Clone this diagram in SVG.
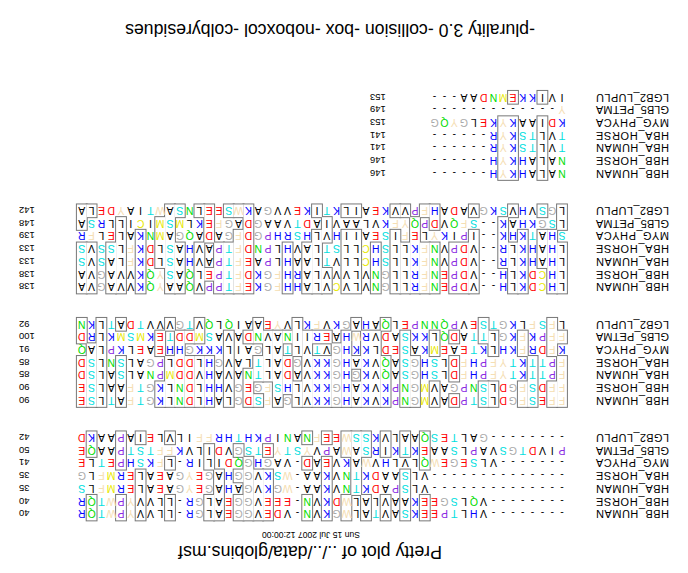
<svg xmlns="http://www.w3.org/2000/svg" width="688" height="573" viewBox="0 0 688 573">
<style>
text{font-family:"Liberation Sans",Arial,sans-serif;fill:#000}
.s{font-size:10.5px;text-anchor:middle}
.nm{font-size:11px}
.nu{font-size:9.5px;text-anchor:end}
.r{fill:#f00}.b{fill:#00f}.c{fill:#00dede}.g{fill:#00dc00}.y{fill:#aaa}.p{fill:#8a2be2}.w{fill:#f5deb3}.m{fill:#e8e800}
</style>
<defs>
<g id="bx1">
<rect x="258.3" y="0" width="9.8" height="25.4"/><rect x="258.3" y="50.8" width="9.8" height="38.1"/>
<rect x="277.9" y="0" width="9.8" height="50.8"/><rect x="277.9" y="63.5" width="9.8" height="25.4"/>
<rect x="297.5" y="0" width="9.8" height="25.4"/><rect x="297.5" y="63.5" width="9.8" height="25.4"/>
<rect x="317.1" y="0" width="9.8" height="25.4"/><rect x="317.1" y="63.5" width="9.8" height="25.4"/>
<rect x="326.9" y="25.4" width="9.8" height="63.5"/>
<rect x="336.7" y="0" width="9.8" height="25.4"/><rect x="336.7" y="63.5" width="9.8" height="25.4"/>
<rect x="356.3" y="0" width="9.8" height="63.5"/><rect x="356.3" y="76.2" width="9.8" height="12.7"/>
<rect x="375.9" y="0" width="9.8" height="25.4"/><rect x="375.9" y="50.8" width="9.8" height="12.7"/><rect x="375.9" y="76.2" width="9.8" height="12.7"/>
<rect x="415.1" y="0" width="9.8" height="50.8"/><rect x="415.1" y="63.5" width="9.8" height="12.7"/>
<rect x="424.9" y="0" width="9.8" height="50.8"/>
<rect x="434.7" y="0" width="9.8" height="63.5"/>
<rect x="444.5" y="0" width="9.8" height="25.4"/><rect x="444.5" y="38.1" width="9.8" height="12.7"/><rect x="444.5" y="63.5" width="9.8" height="12.7"/>
<rect x="464.1" y="0" width="9.8" height="50.8"/>
<rect x="473.9" y="0" width="9.8" height="25.4"/><rect x="473.9" y="50.8" width="9.8" height="25.4"/>
<rect x="513.1" y="0" width="9.8" height="25.4"/><rect x="513.1" y="50.8" width="9.8" height="12.7"/><rect x="513.1" y="76.2" width="9.8" height="12.7"/>
<rect x="542.5" y="0" width="9.8" height="50.8"/><rect x="542.5" y="76.2" width="9.8" height="12.7"/>
<rect x="562.1" y="0" width="9.8" height="25.4"/><rect x="562.1" y="50.8" width="9.8" height="38.1"/>
<rect x="591.5" y="0" width="9.8" height="25.4"/><rect x="591.5" y="63.5" width="9.8" height="25.4"/>
</g>
<g id="bx2">
<rect x="121.1" y="0" width="9.8" height="50.8"/><rect x="121.1" y="63.5" width="9.8" height="12.7"/>
<rect x="130.9" y="0" width="9.8" height="25.4"/><rect x="130.9" y="50.8" width="9.8" height="38.1"/>
<rect x="150.5" y="0" width="9.8" height="50.8"/>
<rect x="160.3" y="0" width="9.8" height="25.4"/><rect x="160.3" y="50.8" width="9.8" height="25.4"/>
<rect x="189.7" y="0" width="9.8" height="25.4"/><rect x="189.7" y="50.8" width="9.8" height="25.4"/>
<rect x="199.5" y="0" width="9.8" height="25.4"/><rect x="199.5" y="63.5" width="9.8" height="25.4"/>
<rect x="228.9" y="0" width="9.8" height="12.7"/><rect x="228.9" y="25.4" width="9.8" height="25.4"/><rect x="228.9" y="63.5" width="9.8" height="12.7"/>
<rect x="248.5" y="0" width="9.8" height="25.4"/><rect x="248.5" y="50.8" width="9.8" height="25.4"/>
<rect x="268.1" y="0" width="9.8" height="50.8"/>
<rect x="277.9" y="0" width="9.8" height="76.2"/>
<rect x="297.5" y="0" width="9.8" height="50.8"/><rect x="297.5" y="76.2" width="9.8" height="12.7"/>
<rect x="307.3" y="0" width="19.6" height="76.2"/>
<rect x="326.9" y="0" width="9.8" height="25.4"/><rect x="326.9" y="38.1" width="9.8" height="12.7"/><rect x="326.9" y="76.2" width="9.8" height="12.7"/>
<rect x="336.7" y="0" width="9.8" height="76.2"/>
<rect x="346.5" y="0" width="9.8" height="63.5"/>
<rect x="356.3" y="0" width="19.6" height="50.8"/><rect x="356.3" y="63.5" width="19.6" height="12.7"/>
<rect x="375.9" y="0" width="9.8" height="76.2"/>
<rect x="385.7" y="0" width="9.8" height="25.4"/><rect x="385.7" y="50.8" width="9.8" height="38.1"/>
<rect x="395.5" y="12.7" width="9.8" height="38.1"/><rect x="395.5" y="63.5" width="9.8" height="12.7"/>
<rect x="405.3" y="0" width="9.8" height="76.2"/>
<rect x="415.1" y="25.4" width="9.8" height="50.8"/>
<rect x="424.9" y="0" width="9.8" height="12.7"/><rect x="424.9" y="25.4" width="9.8" height="25.4"/><rect x="424.9" y="63.5" width="9.8" height="25.4"/>
<rect x="434.7" y="0" width="9.8" height="38.1"/><rect x="434.7" y="63.5" width="9.8" height="12.7"/>
<rect x="454.3" y="0" width="9.8" height="76.2"/>
<rect x="473.9" y="0" width="9.8" height="50.8"/>
<rect x="483.7" y="0" width="9.8" height="50.8"/><rect x="483.7" y="63.5" width="9.8" height="25.4"/>
<rect x="493.5" y="0" width="9.8" height="50.8"/><rect x="493.5" y="63.5" width="9.8" height="12.7"/>
<rect x="503.3" y="0" width="9.8" height="76.2"/>
<rect x="513.1" y="0" width="9.8" height="50.8"/><rect x="513.1" y="76.2" width="9.8" height="12.7"/>
<rect x="522.9" y="0" width="9.8" height="25.4"/><rect x="522.9" y="50.8" width="9.8" height="25.4"/>
<rect x="562.1" y="0" width="9.8" height="50.8"/><rect x="562.1" y="76.2" width="9.8" height="12.7"/>
<rect x="581.7" y="0" width="9.8" height="88.9"/>
<rect x="591.5" y="0" width="9.8" height="63.5"/>
<rect x="601.3" y="0" width="9.8" height="50.8"/><rect x="601.3" y="63.5" width="9.8" height="25.4"/>
</g>
<g id="bx3">
<rect x="121.1" y="0" width="9.8" height="50.8"/><rect x="121.1" y="63.5" width="9.8" height="25.4"/>
<rect x="130.9" y="0" width="9.8" height="63.5"/>
<rect x="140.7" y="25.4" width="9.8" height="38.1"/><rect x="140.7" y="76.2" width="9.8" height="12.7"/>
<rect x="160.3" y="0" width="9.8" height="63.5"/>
<rect x="170.1" y="0" width="9.8" height="50.8"/><rect x="170.1" y="76.2" width="9.8" height="12.7"/>
<rect x="179.9" y="25.4" width="9.8" height="50.8"/>
<rect x="209.3" y="0" width="9.8" height="63.5"/><rect x="209.3" y="76.2" width="9.8" height="12.7"/>
<rect x="219.1" y="0" width="19.6" height="50.8"/>
<rect x="248.5" y="0" width="9.8" height="50.8"/><rect x="248.5" y="63.5" width="9.8" height="25.4"/>
<rect x="258.3" y="0" width="9.8" height="50.8"/><rect x="258.3" y="76.2" width="9.8" height="12.7"/>
<rect x="268.1" y="0" width="9.8" height="76.2"/>
<rect x="277.9" y="0" width="9.8" height="50.8"/><rect x="277.9" y="76.2" width="9.8" height="12.7"/>
<rect x="287.7" y="0" width="9.8" height="63.5"/><rect x="287.7" y="76.2" width="9.8" height="12.7"/>
<rect x="307.3" y="0" width="9.8" height="50.8"/>
<rect x="326.9" y="0" width="19.6" height="63.5"/><rect x="326.9" y="76.2" width="19.6" height="12.7"/>
<rect x="356.3" y="0" width="9.8" height="25.4"/><rect x="356.3" y="50.8" width="9.8" height="25.4"/>
<rect x="366.1" y="0" width="9.8" height="63.5"/><rect x="366.1" y="76.2" width="9.8" height="12.7"/>
<rect x="375.9" y="0" width="9.8" height="50.8"/>
<rect x="395.5" y="0" width="9.8" height="50.8"/>
<rect x="434.7" y="0" width="9.8" height="88.9"/>
<rect x="444.5" y="0" width="9.8" height="63.5"/><rect x="444.5" y="76.2" width="9.8" height="12.7"/>
<rect x="454.3" y="0" width="9.8" height="50.8"/><rect x="454.3" y="76.2" width="9.8" height="12.7"/>
<rect x="464.1" y="0" width="9.8" height="50.8"/>
<rect x="473.9" y="12.7" width="9.8" height="12.7"/><rect x="473.9" y="50.8" width="9.8" height="38.1"/>
<rect x="483.7" y="0" width="9.8" height="50.8"/><rect x="483.7" y="76.2" width="9.8" height="12.7"/>
<rect x="503.3" y="0" width="9.8" height="50.8"/><rect x="503.3" y="76.2" width="9.8" height="12.7"/>
<rect x="513.1" y="0" width="9.8" height="88.9"/>
<rect x="522.9" y="25.4" width="9.8" height="50.8"/>
<rect x="542.5" y="0" width="9.8" height="63.5"/>
<rect x="562.1" y="0" width="9.8" height="76.2"/>
<rect x="571.9" y="0" width="9.8" height="50.8"/>
<rect x="591.5" y="0" width="9.8" height="50.8"/><rect x="591.5" y="76.2" width="9.8" height="12.7"/>
<rect x="601.3" y="0" width="9.8" height="50.8"/><rect x="601.3" y="63.5" width="9.8" height="25.4"/>
</g>
<g id="bx4">
<rect x="140.7" y="0" width="9.8" height="63.5"/><rect x="140.7" y="76.2" width="9.8" height="12.7"/>
<rect x="170.1" y="0" width="19.6" height="63.5"/><rect x="170.1" y="76.2" width="9.8" height="12.7"/>
</g>
</defs>
<rect width="688" height="573" fill="#fff"/>
<g transform="rotate(180 344 286.5)">
<text x="378" y="27" text-anchor="middle" font-size="17.8">Pretty plot of ../../data/globins.msf</text>
<text x="377" y="41" text-anchor="middle" font-size="8.6">Sun 15 Jul 2007 12:00:00</text>
<text x="358" y="549" text-anchor="middle" font-size="17.7">-plurality 3.0 -collision -box -noboxcol -colbyresidues</text>

<g id="block1" transform="translate(0,52.65)">
<use href="#bx1" fill="none" stroke="#777" stroke-width="2"/>
<use href="#bx1" fill="#fff"/>
<text class="nm" x="19" y="10.15" textLength="73" lengthAdjust="spacing">HBB_HUMAN</text>
<text class="nm" x="19" y="22.85" textLength="73" lengthAdjust="spacing">HBB_HORSE</text>
<text class="nm" x="19" y="35.55" textLength="73" lengthAdjust="spacing">HBA_HUMAN</text>
<text class="nm" x="19" y="48.25" textLength="73" lengthAdjust="spacing">HBA_HORSE</text>
<text class="nm" x="19" y="60.95" textLength="73" lengthAdjust="spacing">MYG_PHYCA</text>
<text class="nm" x="19" y="73.65" textLength="73" lengthAdjust="spacing">GLB5_PETMA</text>
<text class="nm" x="19" y="86.35" textLength="73" lengthAdjust="spacing">LGB2_LUPLU</text>
<text class="s" y="10.15" x="126 135.8 145.6 155.4 165.2 175 184.8 194.6 204.4 214.2 224 233.8 243.6 253.4 263.2 273 282.8 292.6 302.4 312.2 322 331.8 341.6 351.4 361.2 371 380.8 390.6 400.4 410.2 420 429.8 439.6 449.4 459.2 469 478.8 488.6 498.4 508.2 518 527.8 537.6 547.4 557.2 567 576.8 586.6 596.4 606.2">--------V<tspan class="b">H</tspan>L<tspan class="c">T</tspan><tspan class="p">P</tspan><tspan class="r">EE</tspan><tspan class="b">K</tspan><tspan class="c">S</tspan>AV<tspan class="c">T</tspan>AL<tspan class="w">W</tspan><tspan class="y">G</tspan><tspan class="b">K</tspan>V<tspan class="g">N</tspan>-V<tspan class="r">DE</tspan>V<tspan class="y">GG</tspan><tspan class="r">E</tspan>AL<tspan class="y">G</tspan><tspan class="b">R</tspan>-LLVV<tspan class="w">Y</tspan><tspan class="p">P</tspan><tspan class="w">W</tspan><tspan class="c">T</tspan><tspan class="g">Q</tspan><tspan class="b">R</tspan></text>
<text class="s" y="22.85" x="126 135.8 145.6 155.4 165.2 175 184.8 194.6 204.4 214.2 224 233.8 243.6 253.4 263.2 273 282.8 292.6 302.4 312.2 322 331.8 341.6 351.4 361.2 371 380.8 390.6 400.4 410.2 420 429.8 439.6 449.4 459.2 469 478.8 488.6 498.4 508.2 518 527.8 537.6 547.4 557.2 567 576.8 586.6 596.4 606.2">--------V<tspan class="g">Q</tspan>L<tspan class="c">S</tspan><tspan class="y">G</tspan><tspan class="r">EE</tspan><tspan class="b">K</tspan>AAVLAL<tspan class="w">W</tspan><tspan class="r">D</tspan><tspan class="b">K</tspan>V<tspan class="g">N</tspan>-<tspan class="r">EEE</tspan>V<tspan class="y">GG</tspan><tspan class="r">E</tspan>AL<tspan class="y">G</tspan><tspan class="b">R</tspan>-LLVV<tspan class="w">Y</tspan><tspan class="p">P</tspan><tspan class="w">W</tspan><tspan class="c">T</tspan><tspan class="g">Q</tspan><tspan class="b">R</tspan></text>
<text class="s" y="35.55" x="126 135.8 145.6 155.4 165.2 175 184.8 194.6 204.4 214.2 224 233.8 243.6 253.4 263.2 273 282.8 292.6 302.4 312.2 322 331.8 341.6 351.4 361.2 371 380.8 390.6 400.4 410.2 420 429.8 439.6 449.4 459.2 469 478.8 488.6 498.4 508.2 518 527.8 537.6 547.4 557.2 567 576.8 586.6 596.4 606.2">--------------VL<tspan class="c">S</tspan><tspan class="p">P</tspan>A<tspan class="r">D</tspan><tspan class="b">K</tspan><tspan class="c">T</tspan><tspan class="g">N</tspan>V<tspan class="b">K</tspan>AA-<tspan class="w">W</tspan><tspan class="y">G</tspan><tspan class="b">K</tspan>V<tspan class="y">G</tspan>A<tspan class="b">H</tspan>A<tspan class="y">G</tspan><tspan class="r">E</tspan><tspan class="w">Y</tspan><tspan class="y">G</tspan>A<tspan class="r">E</tspan>AL<tspan class="r">E</tspan><tspan class="b">R</tspan><tspan class="m">M</tspan><tspan class="w">F</tspan>L<tspan class="c">S</tspan></text>
<text class="s" y="48.25" x="126 135.8 145.6 155.4 165.2 175 184.8 194.6 204.4 214.2 224 233.8 243.6 253.4 263.2 273 282.8 292.6 302.4 312.2 322 331.8 341.6 351.4 361.2 371 380.8 390.6 400.4 410.2 420 429.8 439.6 449.4 459.2 469 478.8 488.6 498.4 508.2 518 527.8 537.6 547.4 557.2 567 576.8 586.6 596.4 606.2">--------------VL<tspan class="c">S</tspan>AA<tspan class="r">D</tspan><tspan class="b">K</tspan><tspan class="c">T</tspan><tspan class="g">N</tspan>V<tspan class="b">K</tspan>AA-<tspan class="w">W</tspan><tspan class="c">S</tspan><tspan class="b">K</tspan>V<tspan class="y">GG</tspan><tspan class="b">H</tspan>A<tspan class="y">G</tspan><tspan class="r">E</tspan><tspan class="w">Y</tspan><tspan class="y">G</tspan>A<tspan class="r">E</tspan>AL<tspan class="r">E</tspan><tspan class="b">R</tspan><tspan class="m">M</tspan><tspan class="w">F</tspan>L<tspan class="y">G</tspan></text>
<text class="s" y="60.95" x="126 135.8 145.6 155.4 165.2 175 184.8 194.6 204.4 214.2 224 233.8 243.6 253.4 263.2 273 282.8 292.6 302.4 312.2 322 331.8 341.6 351.4 361.2 371 380.8 390.6 400.4 410.2 420 429.8 439.6 449.4 459.2 469 478.8 488.6 498.4 508.2 518 527.8 537.6 547.4 557.2 567 576.8 586.6 596.4 606.2">-------VL<tspan class="c">S</tspan><tspan class="r">E</tspan><tspan class="y">G</tspan><tspan class="r">E</tspan><tspan class="w">W</tspan><tspan class="g">Q</tspan>LVL<tspan class="b">H</tspan>V<tspan class="w">W</tspan>A<tspan class="b">K</tspan>V<tspan class="r">E</tspan>A<tspan class="r">D</tspan>-VA<tspan class="y">G</tspan><tspan class="b">H</tspan><tspan class="y">G</tspan><tspan class="g">Q</tspan><tspan class="r">D</tspan>ILI<tspan class="b">R</tspan>-L<tspan class="w">F</tspan><tspan class="b">K</tspan><tspan class="c">S</tspan><tspan class="b">H</tspan><tspan class="p">P</tspan><tspan class="r">E</tspan><tspan class="c">T</tspan>L<tspan class="r">E</tspan></text>
<text class="s" y="73.65" x="126 135.8 145.6 155.4 165.2 175 184.8 194.6 204.4 214.2 224 233.8 243.6 253.4 263.2 273 282.8 292.6 302.4 312.2 322 331.8 341.6 351.4 361.2 371 380.8 390.6 400.4 410.2 420 429.8 439.6 449.4 459.2 469 478.8 488.6 498.4 508.2 518 527.8 537.6 547.4 557.2 567 576.8 586.6 596.4 606.2"><tspan class="p">P</tspan>IV<tspan class="r">D</tspan><tspan class="c">T</tspan><tspan class="y">G</tspan><tspan class="c">S</tspan>VA<tspan class="p">P</tspan>L<tspan class="c">S</tspan>AA<tspan class="r">E</tspan><tspan class="b">K</tspan><tspan class="c">T</tspan><tspan class="b">K</tspan>I<tspan class="b">R</tspan><tspan class="c">S</tspan>A<tspan class="w">W</tspan>A<tspan class="p">P</tspan>V<tspan class="w">Y</tspan><tspan class="c">ST</tspan><tspan class="w">Y</tspan><tspan class="r">E</tspan><tspan class="c">TS</tspan><tspan class="y">G</tspan>V<tspan class="r">D</tspan>ILV<tspan class="b">K</tspan><tspan class="w">FF</tspan><tspan class="c">TST</tspan><tspan class="p">P</tspan>AA<tspan class="g">Q</tspan><tspan class="r">E</tspan></text>
<text class="s" y="86.35" x="126 135.8 145.6 155.4 165.2 175 184.8 194.6 204.4 214.2 224 233.8 243.6 253.4 263.2 273 282.8 292.6 302.4 312.2 322 331.8 341.6 351.4 361.2 371 380.8 390.6 400.4 410.2 420 429.8 439.6 449.4 459.2 469 478.8 488.6 498.4 508.2 518 527.8 537.6 547.4 557.2 567 576.8 586.6 596.4 606.2">--------<tspan class="y">G</tspan>AL<tspan class="c">T</tspan><tspan class="r">E</tspan><tspan class="c">S</tspan><tspan class="g">Q</tspan>AALV<tspan class="b">K</tspan><tspan class="c">SS</tspan><tspan class="w">W</tspan><tspan class="r">EE</tspan><tspan class="w">F</tspan><tspan class="g">N</tspan>A<tspan class="g">N</tspan>I<tspan class="p">P</tspan><tspan class="b">KH</tspan><tspan class="c">T</tspan><tspan class="b">HR</tspan><tspan class="w">FF</tspan>ILVL<tspan class="r">E</tspan>IA<tspan class="p">P</tspan>AA<tspan class="b">K</tspan><tspan class="r">D</tspan></text>
<text class="nu" x="669" y="10.15">40</text>
<text class="nu" x="669" y="22.85">40</text>
<text class="nu" x="669" y="35.55">35</text>
<text class="nu" x="669" y="48.25">35</text>
<text class="nu" x="669" y="60.95">41</text>
<text class="nu" x="669" y="73.65">50</text>
<text class="nu" x="669" y="86.35">42</text>
</g>

<g id="block2" transform="translate(0,166.15)">
<use href="#bx2" fill="none" stroke="#777" stroke-width="2"/>
<use href="#bx2" fill="#fff"/>
<text class="nm" x="19" y="10.15" textLength="73" lengthAdjust="spacing">HBB_HUMAN</text>
<text class="nm" x="19" y="22.85" textLength="73" lengthAdjust="spacing">HBB_HORSE</text>
<text class="nm" x="19" y="35.55" textLength="73" lengthAdjust="spacing">HBA_HUMAN</text>
<text class="nm" x="19" y="48.25" textLength="73" lengthAdjust="spacing">HBA_HORSE</text>
<text class="nm" x="19" y="60.95" textLength="73" lengthAdjust="spacing">MYG_PHYCA</text>
<text class="nm" x="19" y="73.65" textLength="73" lengthAdjust="spacing">GLB5_PETMA</text>
<text class="nm" x="19" y="86.35" textLength="73" lengthAdjust="spacing">LGB2_LUPLU</text>
<text class="s" y="10.15" x="126 135.8 145.6 155.4 165.2 175 184.8 194.6 204.4 214.2 224 233.8 243.6 253.4 263.2 273 282.8 292.6 302.4 312.2 322 331.8 341.6 351.4 361.2 371 380.8 390.6 400.4 410.2 420 429.8 439.6 449.4 459.2 469 478.8 488.6 498.4 508.2 518 527.8 537.6 547.4 557.2 567 576.8 586.6 596.4 606.2"><tspan class="w">FF</tspan><tspan class="r">E</tspan><tspan class="c">S</tspan><tspan class="w">F</tspan><tspan class="y">G</tspan><tspan class="r">D</tspan>L<tspan class="c">ST</tspan><tspan class="p">P</tspan><tspan class="r">D</tspan>AV<tspan class="m">M</tspan><tspan class="y">G</tspan><tspan class="g">N</tspan><tspan class="p">P</tspan><tspan class="b">K</tspan>V<tspan class="b">K</tspan>A<tspan class="b">H</tspan><tspan class="y">G</tspan><tspan class="b">KK</tspan>VL<tspan class="y">G</tspan>A<tspan class="w">F</tspan><tspan class="c">S</tspan><tspan class="r">D</tspan><tspan class="y">G</tspan>LA<tspan class="b">H</tspan>L<tspan class="r">D</tspan><tspan class="g">N</tspan>L<tspan class="b">K</tspan><tspan class="y">G</tspan><tspan class="c">T</tspan><tspan class="w">F</tspan>A<tspan class="c">T</tspan>L<tspan class="c">S</tspan><tspan class="r">E</tspan></text>
<text class="s" y="22.85" x="126 135.8 145.6 155.4 165.2 175 184.8 194.6 204.4 214.2 224 233.8 243.6 253.4 263.2 273 282.8 292.6 302.4 312.2 322 331.8 341.6 351.4 361.2 371 380.8 390.6 400.4 410.2 420 429.8 439.6 449.4 459.2 469 478.8 488.6 498.4 508.2 518 527.8 537.6 547.4 557.2 567 576.8 586.6 596.4 606.2"><tspan class="w">FF</tspan><tspan class="r">D</tspan><tspan class="c">S</tspan><tspan class="w">F</tspan><tspan class="y">G</tspan><tspan class="r">D</tspan>L<tspan class="c">S</tspan><tspan class="g">N</tspan><tspan class="p">P</tspan><tspan class="y">G</tspan>AV<tspan class="m">M</tspan><tspan class="y">G</tspan><tspan class="g">N</tspan><tspan class="p">P</tspan><tspan class="b">K</tspan>V<tspan class="b">K</tspan>A<tspan class="b">H</tspan><tspan class="y">G</tspan><tspan class="b">KK</tspan>VL<tspan class="b">H</tspan><tspan class="c">S</tspan><tspan class="w">F</tspan><tspan class="y">G</tspan><tspan class="r">E</tspan><tspan class="y">G</tspan>V<tspan class="b">HH</tspan>L<tspan class="r">D</tspan><tspan class="g">N</tspan>L<tspan class="b">K</tspan><tspan class="y">G</tspan><tspan class="c">T</tspan><tspan class="w">F</tspan>AAL<tspan class="c">S</tspan><tspan class="r">E</tspan></text>
<text class="s" y="35.55" x="126 135.8 145.6 155.4 165.2 175 184.8 194.6 204.4 214.2 224 233.8 243.6 253.4 263.2 273 282.8 292.6 302.4 312.2 322 331.8 341.6 351.4 361.2 371 380.8 390.6 400.4 410.2 420 429.8 439.6 449.4 459.2 469 478.8 488.6 498.4 508.2 518 527.8 537.6 547.4 557.2 567 576.8 586.6 596.4 606.2"><tspan class="w">F</tspan><tspan class="p">P</tspan><tspan class="c">TT</tspan><tspan class="b">K</tspan><tspan class="c">T</tspan><tspan class="w">YF</tspan><tspan class="p">P</tspan><tspan class="b">H</tspan><tspan class="w">F</tspan><tspan class="r">D</tspan>L<tspan class="c">S</tspan><tspan class="b">H</tspan><tspan class="y">G</tspan><tspan class="c">S</tspan>A<tspan class="g">Q</tspan>V<tspan class="b">K</tspan><tspan class="y">G</tspan><tspan class="b">H</tspan><tspan class="y">G</tspan><tspan class="b">KK</tspan>VA<tspan class="r">D</tspan>AL<tspan class="c">T</tspan><tspan class="g">N</tspan>AVA<tspan class="b">H</tspan>V<tspan class="r">DD</tspan><tspan class="m">M</tspan><tspan class="p">P</tspan><tspan class="g">N</tspan>AL<tspan class="c">S</tspan>AL<tspan class="c">S</tspan><tspan class="r">D</tspan></text>
<text class="s" y="48.25" x="126 135.8 145.6 155.4 165.2 175 184.8 194.6 204.4 214.2 224 233.8 243.6 253.4 263.2 273 282.8 292.6 302.4 312.2 322 331.8 341.6 351.4 361.2 371 380.8 390.6 400.4 410.2 420 429.8 439.6 449.4 459.2 469 478.8 488.6 498.4 508.2 518 527.8 537.6 547.4 557.2 567 576.8 586.6 596.4 606.2"><tspan class="w">F</tspan><tspan class="p">P</tspan><tspan class="c">TT</tspan><tspan class="b">K</tspan><tspan class="c">T</tspan><tspan class="w">YF</tspan><tspan class="p">P</tspan><tspan class="b">H</tspan><tspan class="w">F</tspan><tspan class="r">D</tspan>L<tspan class="c">S</tspan><tspan class="b">H</tspan><tspan class="y">G</tspan><tspan class="c">S</tspan>A<tspan class="g">Q</tspan>V<tspan class="b">K</tspan>A<tspan class="b">H</tspan><tspan class="y">G</tspan><tspan class="b">KK</tspan>V<tspan class="y">G</tspan><tspan class="r">D</tspan>AL<tspan class="c">T</tspan>LAV<tspan class="y">G</tspan><tspan class="b">H</tspan>L<tspan class="r">DD</tspan>L<tspan class="p">P</tspan><tspan class="y">G</tspan>AL<tspan class="c">S</tspan><tspan class="g">N</tspan>L<tspan class="c">S</tspan><tspan class="r">D</tspan></text>
<text class="s" y="60.95" x="126 135.8 145.6 155.4 165.2 175 184.8 194.6 204.4 214.2 224 233.8 243.6 253.4 263.2 273 282.8 292.6 302.4 312.2 322 331.8 341.6 351.4 361.2 371 380.8 390.6 400.4 410.2 420 429.8 439.6 449.4 459.2 469 478.8 488.6 498.4 508.2 518 527.8 537.6 547.4 557.2 567 576.8 586.6 596.4 606.2"><tspan class="b">K</tspan><tspan class="w">F</tspan><tspan class="r">D</tspan><tspan class="b">R</tspan><tspan class="w">F</tspan><tspan class="b">KH</tspan>L<tspan class="b">K</tspan><tspan class="c">T</tspan><tspan class="r">E</tspan>A<tspan class="r">E</tspan><tspan class="m">M</tspan><tspan class="b">K</tspan>A<tspan class="c">S</tspan><tspan class="r">ED</tspan>L<tspan class="b">KKH</tspan><tspan class="y">G</tspan>V<tspan class="c">T</tspan>VL<tspan class="c">T</tspan>AL<tspan class="y">G</tspan>AIL<tspan class="b">KKK</tspan><tspan class="y">G</tspan><tspan class="b">HH</tspan><tspan class="r">E</tspan>A<tspan class="r">E</tspan>L<tspan class="b">K</tspan><tspan class="p">P</tspan>LA<tspan class="g">Q</tspan></text>
<text class="s" y="73.65" x="126 135.8 145.6 155.4 165.2 175 184.8 194.6 204.4 214.2 224 233.8 243.6 253.4 263.2 273 282.8 292.6 302.4 312.2 322 331.8 341.6 351.4 361.2 371 380.8 390.6 400.4 410.2 420 429.8 439.6 449.4 459.2 469 478.8 488.6 498.4 508.2 518 527.8 537.6 547.4 557.2 567 576.8 586.6 596.4 606.2"><tspan class="w">FF</tspan><tspan class="p">P</tspan><tspan class="b">K</tspan><tspan class="w">F</tspan><tspan class="b">K</tspan><tspan class="y">G</tspan>L<tspan class="c">TT</tspan>A<tspan class="r">D</tspan><tspan class="g">Q</tspan>L<tspan class="b">KK</tspan><tspan class="c">S</tspan>A<tspan class="r">D</tspan>V<tspan class="b">R</tspan><tspan class="w">W</tspan><tspan class="b">H</tspan>A<tspan class="r">E</tspan><tspan class="b">R</tspan>II<tspan class="g">N</tspan>AV<tspan class="g">N</tspan><tspan class="r">D</tspan>AVA<tspan class="c">S</tspan><tspan class="m">M</tspan><tspan class="r">DD</tspan><tspan class="c">T</tspan><tspan class="r">E</tspan><tspan class="b">K</tspan><tspan class="m">M</tspan><tspan class="c">S</tspan><tspan class="m">M</tspan><tspan class="b">K</tspan>L<tspan class="b">R</tspan><tspan class="r">D</tspan></text>
<text class="s" y="86.35" x="126 135.8 145.6 155.4 165.2 175 184.8 194.6 204.4 214.2 224 233.8 243.6 253.4 263.2 273 282.8 292.6 302.4 312.2 322 331.8 341.6 351.4 361.2 371 380.8 390.6 400.4 410.2 420 429.8 439.6 449.4 459.2 469 478.8 488.6 498.4 508.2 518 527.8 537.6 547.4 557.2 567 576.8 586.6 596.4 606.2">L<tspan class="w">F</tspan><tspan class="c">S</tspan><tspan class="w">F</tspan>L<tspan class="b">K</tspan><tspan class="y">G</tspan><tspan class="c">TS</tspan><tspan class="r">E</tspan>V<tspan class="p">P</tspan><tspan class="g">QNN</tspan><tspan class="p">P</tspan><tspan class="r">E</tspan>L<tspan class="g">Q</tspan>A<tspan class="b">H</tspan>A<tspan class="y">G</tspan><tspan class="b">K</tspan>V<tspan class="w">F</tspan><tspan class="b">K</tspan>LV<tspan class="w">Y</tspan><tspan class="r">E</tspan>AAI<tspan class="g">Q</tspan>L<tspan class="g">Q</tspan>V<tspan class="c">T</tspan><tspan class="y">G</tspan>VVV<tspan class="c">T</tspan><tspan class="r">D</tspan>A<tspan class="c">T</tspan>L<tspan class="b">K</tspan><tspan class="g">N</tspan></text>
<text class="nu" x="669" y="10.15">90</text>
<text class="nu" x="669" y="22.85">90</text>
<text class="nu" x="669" y="35.55">85</text>
<text class="nu" x="669" y="48.25">85</text>
<text class="nu" x="669" y="60.95">91</text>
<text class="nu" x="669" y="73.65">100</text>
<text class="nu" x="669" y="86.35">92</text>
</g>

<g id="block3" transform="translate(0,279.65)">
<use href="#bx3" fill="none" stroke="#777" stroke-width="2"/>
<use href="#bx3" fill="#fff"/>
<text class="nm" x="19" y="10.15" textLength="73" lengthAdjust="spacing">HBB_HUMAN</text>
<text class="nm" x="19" y="22.85" textLength="73" lengthAdjust="spacing">HBB_HORSE</text>
<text class="nm" x="19" y="35.55" textLength="73" lengthAdjust="spacing">HBA_HUMAN</text>
<text class="nm" x="19" y="48.25" textLength="73" lengthAdjust="spacing">HBA_HORSE</text>
<text class="nm" x="19" y="60.95" textLength="73" lengthAdjust="spacing">MYG_PHYCA</text>
<text class="nm" x="19" y="73.65" textLength="73" lengthAdjust="spacing">GLB5_PETMA</text>
<text class="nm" x="19" y="86.35" textLength="73" lengthAdjust="spacing">LGB2_LUPLU</text>
<text class="s" y="10.15" x="126 135.8 145.6 155.4 165.2 175 184.8 194.6 204.4 214.2 224 233.8 243.6 253.4 263.2 273 282.8 292.6 302.4 312.2 322 331.8 341.6 351.4 361.2 371 380.8 390.6 400.4 410.2 420 429.8 439.6 449.4 459.2 469 478.8 488.6 498.4 508.2 518 527.8 537.6 547.4 557.2 567 576.8 586.6 596.4 606.2">L<tspan class="b">H</tspan><tspan class="m">C</tspan><tspan class="r">D</tspan><tspan class="b">K</tspan>L<tspan class="b">H</tspan>--V<tspan class="r">D</tspan><tspan class="p">P</tspan><tspan class="r">E</tspan><tspan class="g">N</tspan><tspan class="w">F</tspan><tspan class="b">R</tspan>LL<tspan class="y">G</tspan><tspan class="g">N</tspan>VLV<tspan class="m">C</tspan>VLA<tspan class="b">HH</tspan><tspan class="w">F</tspan><tspan class="y">G</tspan><tspan class="b">K</tspan><tspan class="r">E</tspan><tspan class="w">F</tspan><tspan class="c">T</tspan><tspan class="p">PP</tspan>V<tspan class="g">Q</tspan>AA<tspan class="w">Y</tspan><tspan class="g">Q</tspan><tspan class="b">K</tspan>VVA<tspan class="y">G</tspan>VA</text>
<text class="s" y="22.85" x="126 135.8 145.6 155.4 165.2 175 184.8 194.6 204.4 214.2 224 233.8 243.6 253.4 263.2 273 282.8 292.6 302.4 312.2 322 331.8 341.6 351.4 361.2 371 380.8 390.6 400.4 410.2 420 429.8 439.6 449.4 459.2 469 478.8 488.6 498.4 508.2 518 527.8 537.6 547.4 557.2 567 576.8 586.6 596.4 606.2">L<tspan class="b">H</tspan><tspan class="m">C</tspan><tspan class="r">D</tspan><tspan class="b">K</tspan>L<tspan class="b">H</tspan>--V<tspan class="r">D</tspan><tspan class="p">P</tspan><tspan class="r">E</tspan><tspan class="g">N</tspan><tspan class="w">F</tspan><tspan class="b">R</tspan>LL<tspan class="y">G</tspan><tspan class="g">N</tspan>VLVVVLA<tspan class="b">RH</tspan><tspan class="w">F</tspan><tspan class="y">G</tspan><tspan class="b">K</tspan><tspan class="r">D</tspan><tspan class="w">F</tspan><tspan class="c">T</tspan><tspan class="p">P</tspan><tspan class="r">E</tspan>L<tspan class="g">Q</tspan>A<tspan class="c">S</tspan><tspan class="w">Y</tspan><tspan class="g">Q</tspan><tspan class="b">K</tspan>VVA<tspan class="y">G</tspan>VA</text>
<text class="s" y="35.55" x="126 135.8 145.6 155.4 165.2 175 184.8 194.6 204.4 214.2 224 233.8 243.6 253.4 263.2 273 282.8 292.6 302.4 312.2 322 331.8 341.6 351.4 361.2 371 380.8 390.6 400.4 410.2 420 429.8 439.6 449.4 459.2 469 478.8 488.6 498.4 508.2 518 527.8 537.6 547.4 557.2 567 576.8 586.6 596.4 606.2">L<tspan class="b">H</tspan>A<tspan class="b">HK</tspan>L<tspan class="b">R</tspan>--V<tspan class="r">D</tspan><tspan class="p">P</tspan>V<tspan class="g">N</tspan><tspan class="w">F</tspan><tspan class="b">K</tspan>LL<tspan class="c">S</tspan><tspan class="b">H</tspan><tspan class="m">C</tspan>LLV<tspan class="c">T</tspan>LAA<tspan class="b">H</tspan>L<tspan class="p">P</tspan>A<tspan class="r">E</tspan><tspan class="w">F</tspan><tspan class="c">T</tspan><tspan class="p">P</tspan>AV<tspan class="b">H</tspan>A<tspan class="c">S</tspan>L<tspan class="r">D</tspan><tspan class="b">K</tspan><tspan class="w">F</tspan>LA<tspan class="c">S</tspan>V<tspan class="c">S</tspan></text>
<text class="s" y="48.25" x="126 135.8 145.6 155.4 165.2 175 184.8 194.6 204.4 214.2 224 233.8 243.6 253.4 263.2 273 282.8 292.6 302.4 312.2 322 331.8 341.6 351.4 361.2 371 380.8 390.6 400.4 410.2 420 429.8 439.6 449.4 459.2 469 478.8 488.6 498.4 508.2 518 527.8 537.6 547.4 557.2 567 576.8 586.6 596.4 606.2">L<tspan class="b">H</tspan>A<tspan class="b">HK</tspan>L<tspan class="b">R</tspan>--V<tspan class="r">D</tspan><tspan class="p">P</tspan>V<tspan class="g">N</tspan><tspan class="w">F</tspan><tspan class="b">K</tspan>LL<tspan class="c">S</tspan><tspan class="b">H</tspan><tspan class="m">C</tspan>LL<tspan class="c">ST</tspan>LAV<tspan class="b">H</tspan>L<tspan class="p">P</tspan><tspan class="g">N</tspan><tspan class="r">D</tspan><tspan class="w">F</tspan><tspan class="c">T</tspan><tspan class="p">P</tspan>AV<tspan class="b">H</tspan>A<tspan class="c">S</tspan>L<tspan class="r">D</tspan><tspan class="b">K</tspan><tspan class="w">F</tspan>L<tspan class="c">SS</tspan>V<tspan class="c">S</tspan></text>
<text class="s" y="60.95" x="126 135.8 145.6 155.4 165.2 175 184.8 194.6 204.4 214.2 224 233.8 243.6 253.4 263.2 273 282.8 292.6 302.4 312.2 322 331.8 341.6 351.4 361.2 371 380.8 390.6 400.4 410.2 420 429.8 439.6 449.4 459.2 469 478.8 488.6 498.4 508.2 518 527.8 537.6 547.4 557.2 567 576.8 586.6 596.4 606.2"><tspan class="c">S</tspan><tspan class="b">H</tspan>A<tspan class="c">T</tspan><tspan class="b">KHK</tspan>--I<tspan class="p">P</tspan>I<tspan class="b">K</tspan><tspan class="w">Y</tspan>L<tspan class="r">E</tspan><tspan class="w">F</tspan>I<tspan class="c">S</tspan><tspan class="r">E</tspan>AII<tspan class="b">H</tspan>VL<tspan class="b">H</tspan><tspan class="c">S</tspan><tspan class="b">RH</tspan><tspan class="p">P</tspan><tspan class="y">G</tspan><tspan class="r">D</tspan><tspan class="w">F</tspan><tspan class="y">G</tspan>A<tspan class="r">D</tspan>A<tspan class="g">Q</tspan><tspan class="y">G</tspan>A<tspan class="m">M</tspan><tspan class="g">N</tspan><tspan class="b">K</tspan>AL<tspan class="r">E</tspan>L<tspan class="w">F</tspan><tspan class="b">R</tspan></text>
<text class="s" y="73.65" x="126 135.8 145.6 155.4 165.2 175 184.8 194.6 204.4 214.2 224 233.8 243.6 253.4 263.2 273 282.8 292.6 302.4 312.2 322 331.8 341.6 351.4 361.2 371 380.8 390.6 400.4 410.2 420 429.8 439.6 449.4 459.2 469 478.8 488.6 498.4 508.2 518 527.8 537.6 547.4 557.2 567 576.8 586.6 596.4 606.2">L<tspan class="c">S</tspan><tspan class="y">G</tspan><tspan class="b">KH</tspan>A<tspan class="b">K</tspan>--<tspan class="c">S</tspan><tspan class="w">F</tspan><tspan class="g">Q</tspan>V<tspan class="r">D</tspan><tspan class="p">P</tspan><tspan class="g">Q</tspan><tspan class="w">YF</tspan><tspan class="b">K</tspan>VLAAVIA<tspan class="r">D</tspan><tspan class="c">T</tspan>VAA<tspan class="y">G</tspan><tspan class="r">D</tspan>A<tspan class="y">G</tspan><tspan class="w">F</tspan><tspan class="r">E</tspan><tspan class="b">K</tspan>L<tspan class="m">M</tspan><tspan class="c">S</tspan><tspan class="m">M</tspan>I<tspan class="m">C</tspan>ILL<tspan class="b">R</tspan><tspan class="c">S</tspan>A</text>
<text class="s" y="86.35" x="126 135.8 145.6 155.4 165.2 175 184.8 194.6 204.4 214.2 224 233.8 243.6 253.4 263.2 273 282.8 292.6 302.4 312.2 322 331.8 341.6 351.4 361.2 371 380.8 390.6 400.4 410.2 420 429.8 439.6 449.4 459.2 469 478.8 488.6 498.4 508.2 518 527.8 537.6 547.4 557.2 567 576.8 586.6 596.4 606.2">L<tspan class="y">G</tspan><tspan class="c">S</tspan>V<tspan class="b">H</tspan>V<tspan class="c">S</tspan><tspan class="b">K</tspan><tspan class="y">G</tspan>VA<tspan class="r">D</tspan>A<tspan class="b">H</tspan><tspan class="w">F</tspan><tspan class="p">P</tspan>VV<tspan class="b">K</tspan><tspan class="r">E</tspan>AIL<tspan class="b">K</tspan><tspan class="c">T</tspan>I<tspan class="b">K</tspan><tspan class="r">E</tspan>VV<tspan class="y">G</tspan>A<tspan class="b">K</tspan><tspan class="w">W</tspan><tspan class="c">S</tspan><tspan class="r">EE</tspan>L<tspan class="g">N</tspan><tspan class="c">S</tspan>A<tspan class="w">W</tspan><tspan class="c">T</tspan>IA<tspan class="w">Y</tspan><tspan class="r">DE</tspan>LA</text>
<text class="nu" x="669" y="10.15">138</text>
<text class="nu" x="669" y="22.85">138</text>
<text class="nu" x="669" y="35.55">133</text>
<text class="nu" x="669" y="48.25">133</text>
<text class="nu" x="669" y="60.95">139</text>
<text class="nu" x="669" y="73.65">148</text>
<text class="nu" x="669" y="86.35">142</text>
</g>

<g id="block4" transform="translate(0,393.15)">
<use href="#bx4" fill="none" stroke="#777" stroke-width="2"/>
<use href="#bx4" fill="#fff"/>
<text class="nm" x="19" y="10.15" textLength="73" lengthAdjust="spacing">HBB_HUMAN</text>
<text class="nm" x="19" y="22.85" textLength="73" lengthAdjust="spacing">HBB_HORSE</text>
<text class="nm" x="19" y="35.55" textLength="73" lengthAdjust="spacing">HBA_HUMAN</text>
<text class="nm" x="19" y="48.25" textLength="73" lengthAdjust="spacing">HBA_HORSE</text>
<text class="nm" x="19" y="60.95" textLength="73" lengthAdjust="spacing">MYG_PHYCA</text>
<text class="nm" x="19" y="73.65" textLength="73" lengthAdjust="spacing">GLB5_PETMA</text>
<text class="nm" x="19" y="86.35" textLength="73" lengthAdjust="spacing">LGB2_LUPLU</text>
<text class="s" y="10.15" x="126 135.8 145.6 155.4 165.2 175 184.8 194.6 204.4 214.2 224 233.8 243.6 253.4"><tspan class="g">N</tspan>ALA<tspan class="b">HK</tspan><tspan class="w">Y</tspan><tspan class="b">H</tspan>------</text>
<text class="s" y="22.85" x="126 135.8 145.6 155.4 165.2 175 184.8 194.6 204.4 214.2 224 233.8 243.6 253.4"><tspan class="g">N</tspan>ALA<tspan class="b">HK</tspan><tspan class="w">Y</tspan><tspan class="b">H</tspan>------</text>
<text class="s" y="35.55" x="126 135.8 145.6 155.4 165.2 175 184.8 194.6 204.4 214.2 224 233.8 243.6 253.4"><tspan class="c">T</tspan>VL<tspan class="c">TS</tspan><tspan class="b">K</tspan><tspan class="w">Y</tspan><tspan class="b">R</tspan>------</text>
<text class="s" y="48.25" x="126 135.8 145.6 155.4 165.2 175 184.8 194.6 204.4 214.2 224 233.8 243.6 253.4"><tspan class="c">T</tspan>VL<tspan class="c">TS</tspan><tspan class="b">K</tspan><tspan class="w">Y</tspan><tspan class="b">R</tspan>------</text>
<text class="s" y="60.95" x="126 135.8 145.6 155.4 165.2 175 184.8 194.6 204.4 214.2 224 233.8 243.6 253.4"><tspan class="b">K</tspan><tspan class="r">D</tspan>IAA<tspan class="b">K</tspan><tspan class="w">Y</tspan><tspan class="b">K</tspan><tspan class="r">E</tspan>L<tspan class="y">G</tspan><tspan class="w">Y</tspan><tspan class="g">Q</tspan><tspan class="y">G</tspan></text>
<text class="s" y="73.65" x="126 135.8 145.6 155.4 165.2 175 184.8 194.6 204.4 214.2 224 233.8 243.6 253.4"><tspan class="w">Y</tspan>-------------</text>
<text class="s" y="86.35" x="126 135.8 145.6 155.4 165.2 175 184.8 194.6 204.4 214.2 224 233.8 243.6 253.4">IVI<tspan class="b">KK</tspan><tspan class="r">E</tspan><tspan class="m">M</tspan><tspan class="g">N</tspan><tspan class="r">D</tspan>AA---</text>
<text class="nu" x="318" y="10.15">146</text>
<text class="nu" x="318" y="22.85">146</text>
<text class="nu" x="318" y="35.55">141</text>
<text class="nu" x="318" y="48.25">141</text>
<text class="nu" x="318" y="60.95">153</text>
<text class="nu" x="318" y="73.65">149</text>
<text class="nu" x="318" y="86.35">153</text>
</g>
</g>
</svg>
